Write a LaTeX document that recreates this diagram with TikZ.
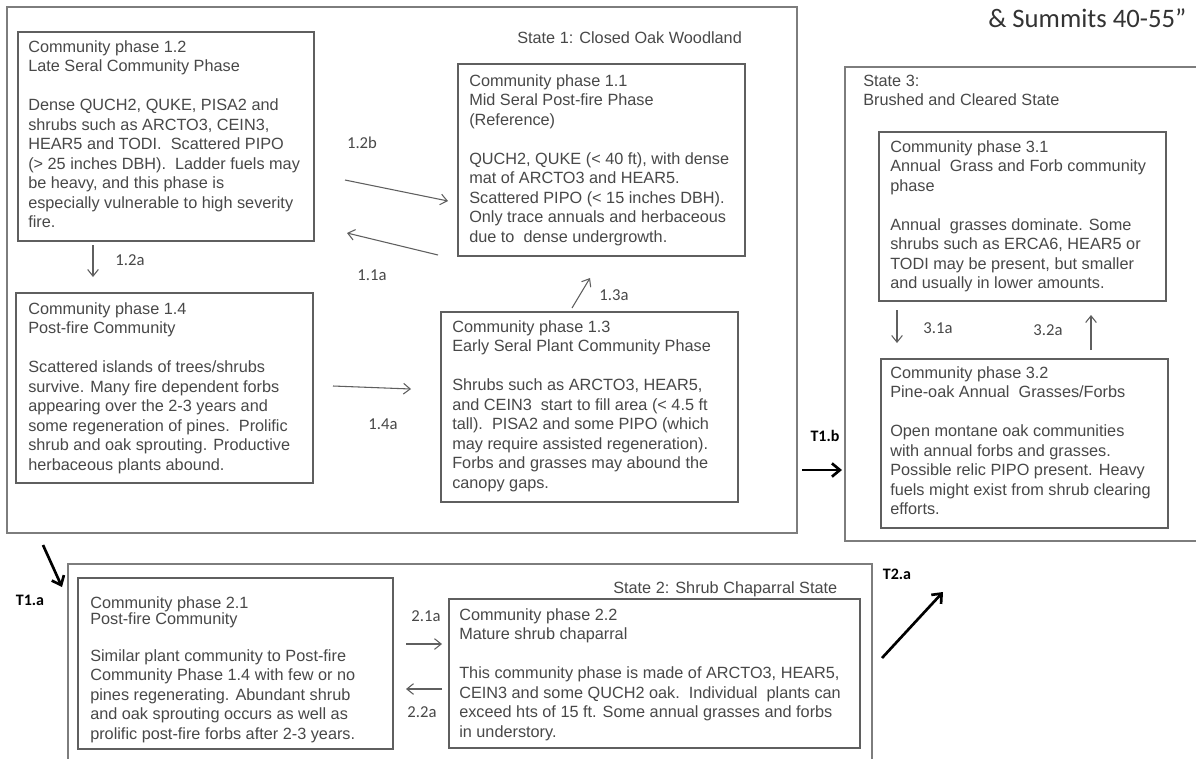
\documentclass[tikz,border=0pt]{standalone}
\usepackage{fontspec}
\setmainfont{Liberation Sans}
\newfontfamily\labfont{Carlito}
\usetikzlibrary{arrows.meta,fit}
\definecolor{txt}{RGB}{72,72,72}
\definecolor{boxline}{RGB}{95,95,95}
\definecolor{stateline}{RGB}{125,125,125}
\begin{document}
\begin{tikzpicture}[x=0.75pt,y=-0.75pt,
  statebox/.style={draw=stateline,line width=1.1pt,inner sep=0pt},
  phasebox/.style={draw=boxline,line width=1pt,inner sep=0pt},
  body/.style={anchor=north west,inner sep=0pt,align=left,text=txt,font=\fontsize{12.2pt}{14.6pt}\selectfont},
  lab/.style={inner sep=0pt,text=txt,font=\labfont\fontsize{12.5pt}{14pt}\selectfont},
  tlab/.style={inner sep=0pt,text=black,font=\labfont\bfseries\fontsize{12pt}{14pt}\selectfont},
  tarrow/.style={draw=boxline,line width=0.8pt,-{Straight Barb[length=5pt,width=8pt]}},
  bigarrow/.style={draw=black,line width=2pt,-{Straight Barb[length=6pt,width=10pt]}}]
\useasboundingbox (0,0) rectangle (1196,758);
\clip (0,0) rectangle (1196,758);
\fill[white] (0,0) rectangle (1196,758);

% title fragment
\node[anchor=base west,inner sep=0pt,text=black!80,font=\labfont\fontsize{20pt}{24pt}\selectfont] (title) at (988,27) {\& Summits 40-55”};

% State boxes
\node[statebox,fit={(7,7) (797,533)}] (s1) {};
\node[statebox,fit={(845,67) (1210,541)}] (s3) {};
\node[statebox,fit={(68,564) (872,770)}] (s2) {};

% State 1
\node[body] (s1t) at (517,27) {\rule{0pt}{12pt}State 1: Closed Oak Woodland};
\node[phasebox,fit={(18,32) (314,241)}] (b12) {};
\node[body] (t12) at (28,36) {\rule{0pt}{12pt}Community phase 1.2\\
Late Seral Community Phase\\[14.6pt]
Dense QUCH2, QUKE, PISA2 and\\
shrubs such as ARCTO3, CEIN3,\\
HEAR5 and TODI.\ \ Scattered PIPO\\
(> 25 inches DBH).\ \ Ladder fuels may\\
be heavy, and this phase is\\
especially vulnerable to high severity\\
fire.};

\node[phasebox,fit={(458,64) (745,256)}] (b11) {};
\node[body] (t11) at (469,70) {\rule{0pt}{12pt}Community phase 1.1\\
Mid Seral Post-fire Phase\\
(Reference)\\[14.6pt]
QUCH2, QUKE (< 40 ft), with dense\\
mat of ARCTO3 and HEAR5.\\
Scattered PIPO (< 15 inches DBH).\\
Only trace annuals and herbaceous\\
due to\ \ dense undergrowth.};

\node[phasebox,fit={(16,293) (313,483)}] (b14) {};
\node[body] (t14) at (28,298) {\rule{0pt}{12pt}Community phase 1.4\\
Post-fire Community\\[14.6pt]
Scattered islands of trees/shrubs\\
survive. Many fire dependent forbs\\
appearing over the 2-3 years and\\
some regeneration of pines.\ \ Prolific\\
shrub and oak sprouting. Productive\\
herbaceous plants abound.};

\node[phasebox,fit={(441,312) (738,502)}] (b13) {};
\node[body] (t13) at (452,316) {\rule{0pt}{12pt}Community phase 1.3\\
Early Seral Plant Community Phase\\[14.6pt]
Shrubs such as ARCTO3, HEAR5,\\
and CEIN3\ \ start to fill area (< 4.5 ft\\
tall).\ \ PISA2 and some PIPO (which\\
may require assisted regeneration).\\
Forbs and grasses may abound the\\
canopy gaps.};

% State 3
\node[body] (s3t) at (863,70) {\rule{0pt}{12pt}State 3:\\
Brushed and Cleared State};
\node[phasebox,fit={(879,132) (1166,301)}] (b31) {};
\node[body] (t31) at (890,136) {\rule{0pt}{12pt}Community phase 3.1\\
Annual\ \ Grass and Forb community\\
phase\\[14.6pt]
Annual\ \ grasses dominate. Some\\
shrubs such as ERCA6, HEAR5 or\\
TODI may be present, but smaller\\
and usually in lower amounts.};
\node[phasebox,fit={(881,359) (1168,528)}] (b32) {};
\node[body] (t32) at (890,362) {\rule{0pt}{12pt}Community phase 3.2\\
Pine-oak Annual\ \ Grasses/Forbs\\[14.6pt]
Open montane oak communities\\
with annual forbs and grasses.\\
Possible relic PIPO present. Heavy\\
fuels might exist from shrub clearing\\
efforts.};

% State 2
\node[body] (s2t) at (613,577) {\rule{0pt}{12pt}State 2: Shrub Chaparral State};
\node[phasebox,fit={(78,578) (393,749)}] (b21) {};
\node[body] (t21) at (90,592) {\rule{0pt}{12pt}Community phase 2.1\\[-2.6pt]
Post-fire Community\\[13.2pt]
Similar plant community to Post-fire\\
Community Phase 1.4 with few or no\\
pines regenerating. Abundant shrub\\
and oak sprouting occurs as well as\\
prolific post-fire forbs after 2-3 years.};
\node[phasebox,fit={(449,599) (860,748)}] (b22) {};
\node[body] (t22) at (459,604) {\rule{0pt}{12pt}Community phase 2.2\\
Mature shrub chaparral\\[14.6pt]
This community phase is made of ARCTO3, HEAR5,\\
CEIN3 and some QUCH2 oak.\ \ Individual\ \ plants can\\
exceed hts of 15 ft. Some annual grasses and forbs\\
in understory.};

% arrow end points
\coordinate (a12b) at (345,180); \coordinate (e12b) at (448,201);
\coordinate (a11a) at (438,255); \coordinate (e11a) at (347,233);
\coordinate (a12a) at (93,245);  \coordinate (e12a) at (93,277);
\coordinate (a13a) at (572,308); \coordinate (e13a) at (590,278);
\coordinate (a14a) at (333,386); \coordinate (e14a) at (411,389);
\coordinate (a31a) at (897,310); \coordinate (e31a) at (897,343);
\coordinate (a32a) at (1091,350); \coordinate (e32a) at (1091,315);
\coordinate (a21a) at (406,644); \coordinate (e21a) at (442,644);
\coordinate (a22a) at (442,689); \coordinate (e22a) at (406,689);
\coordinate (aT1a) at (43,545);  \coordinate (eT1a) at (62,587);
\coordinate (aT1b) at (802,470); \coordinate (eT1b) at (842,470);
\coordinate (aT2a) at (882,658); \coordinate (eT2a) at (943,592);

\draw[tarrow] (a12b) -- (e12b);
\draw[tarrow] (a11a) -- (e11a);
\draw[tarrow] (a12a) -- (e12a);
\draw[tarrow] (a13a) -- (e13a);
\draw[tarrow] (a14a) -- (e14a);
\draw[tarrow] (a31a) -- (e31a);
\draw[tarrow] (a32a) -- (e32a);
\draw[tarrow] (a21a) -- (e21a);
\draw[tarrow] (a22a) -- (e22a);
\draw[bigarrow] (aT1a) -- (eT1a);
\draw[bigarrow] (aT1b) -- (eT1b);
\draw[bigarrow] (aT2a) -- (eT2a);

% labels
\node[lab] (l12b) at (362,143) {1.2b};
\node[lab] (l11a) at (372,275) {1.1a};
\node[lab] (l12a) at (130,260) {1.2a};
\node[lab] (l13a) at (614,295) {1.3a};
\node[lab] (l14a) at (383,424) {1.4a};
\node[lab] (l31a) at (938,328) {3.1a};
\node[lab] (l32a) at (1048,330) {3.2a};
\node[lab] (l21a) at (426,616) {2.1a};
\node[lab] (l22a) at (422,712) {2.2a};
\node[tlab] (lT1a) at (30,600) {T1.a};
\node[tlab] (lT1b) at (825,436) {T1.b};
\node[tlab] (lT2a) at (897,574) {T2.a};
\end{tikzpicture}
\end{document}
